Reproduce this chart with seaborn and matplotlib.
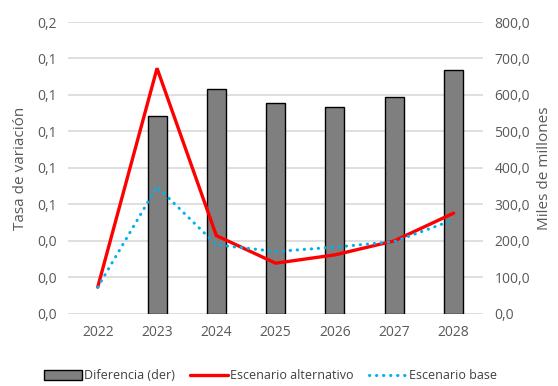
import pandas as pd
import matplotlib
matplotlib.use("Agg")
import matplotlib.pyplot as plt
import seaborn as sns
from matplotlib.patches import Patch
from matplotlib.lines import Line2D

# Data
years = ["2022", "2023", "2024", "2025", "2026", "2027", "2028"]
diferencia = [float("nan"), 542, 616, 579, 566, 595, 668]
esc_alternativo = [0.0183, 0.1683, 0.0536, 0.0347, 0.0404, 0.0500, 0.0690]
esc_base = [0.0183, 0.0872, 0.0473, 0.0427, 0.0457, 0.0495, 0.0644]

left_ticks = [0, 0.025, 0.05, 0.075, 0.1, 0.125, 0.15, 0.175, 0.2]
left_labels = ["0,0", "0,0", "0,0", "0,1", "0,1", "0,1", "0,1", "0,1", "0,2"]
right_ticks = [0, 100, 200, 300, 400, 500, 600, 700, 800]
right_labels = ["0,0", "100,0", "200,0", "300,0", "400,0", "500,0", "600,0", "700,0", "800,0"]

df = pd.DataFrame({"year": years, "dif": diferencia,
                   "alt": esc_alternativo, "base": esc_base})

sns.set_style("white")
plt.rcParams["font.family"] = ["Open Sans", "DejaVu Sans"]
gray = "#595959"
dots = (0, (0.1, 2.2))

fig = plt.figure(figsize=(5.58, 3.86), dpi=100)
ax = fig.add_axes([0.122, 0.187, 0.744, 0.756])

# bars (right scale) on the primary axes so lines draw on top
sns.barplot(data=df, x="year", y="dif", ax=ax, color="#7f7f7f",
            edgecolor="black", linewidth=1.0, width=0.32, saturation=1)
ax.set_ylim(0, 800)
ax.set_xlabel("")
ax.grid(True, axis="y", color="#d9d9d9", linewidth=1.2)
ax.set_axisbelow(True)

ax2 = ax.twinx()
ax2.plot(range(len(years)), df["alt"], color="#ff0000", linewidth=2.4,
         solid_joinstyle="miter")
ax2.plot(range(len(years)), df["base"], color="#00b0f0", linewidth=2.2,
         linestyle=dots, dash_capstyle="round")
ax2.set_ylim(0, 0.2)
ax2.grid(False)

# swap sides: left scale = rates (ax2), right scale = amounts (ax)
ax.set_yticks(right_ticks)
ax.set_yticklabels(right_labels)
ax.yaxis.tick_right()
ax.yaxis.set_label_position("right")
ax.set_ylabel("Miles de millones", color=gray, fontsize=11, labelpad=5)

ax2.set_yticks(left_ticks)
ax2.set_yticklabels(left_labels)
ax2.yaxis.tick_left()
ax2.yaxis.set_label_position("left")
ax2.set_ylabel("Tasa de variación", color=gray, fontsize=11, labelpad=7)

for a in (ax, ax2):
    for s in a.spines.values():
        s.set_visible(False)
    a.tick_params(axis="both", length=0, labelcolor=gray, labelsize=10, pad=8)
ax.set_xlim(-0.5, len(years) - 0.5)

handles = [
    Patch(facecolor="#7f7f7f", edgecolor="black", linewidth=1.0),
    Line2D([0], [0], color="#ff0000", linewidth=2.4),
    Line2D([0], [0], color="#00b0f0", linewidth=2.2, linestyle=dots,
           dash_capstyle="round"),
]
labels = ["Diferencia (der)", "Escenario alternativo", "Escenario base"]
fig.legend(handles, labels, loc="center", bbox_to_anchor=(0.485, 0.027), ncol=3,
           frameon=False, fontsize=9, handlelength=3.0, handleheight=0.8,
           columnspacing=1.2, handletextpad=0.2, labelcolor="#404040")

fig.savefig("out.png", dpi=100)
